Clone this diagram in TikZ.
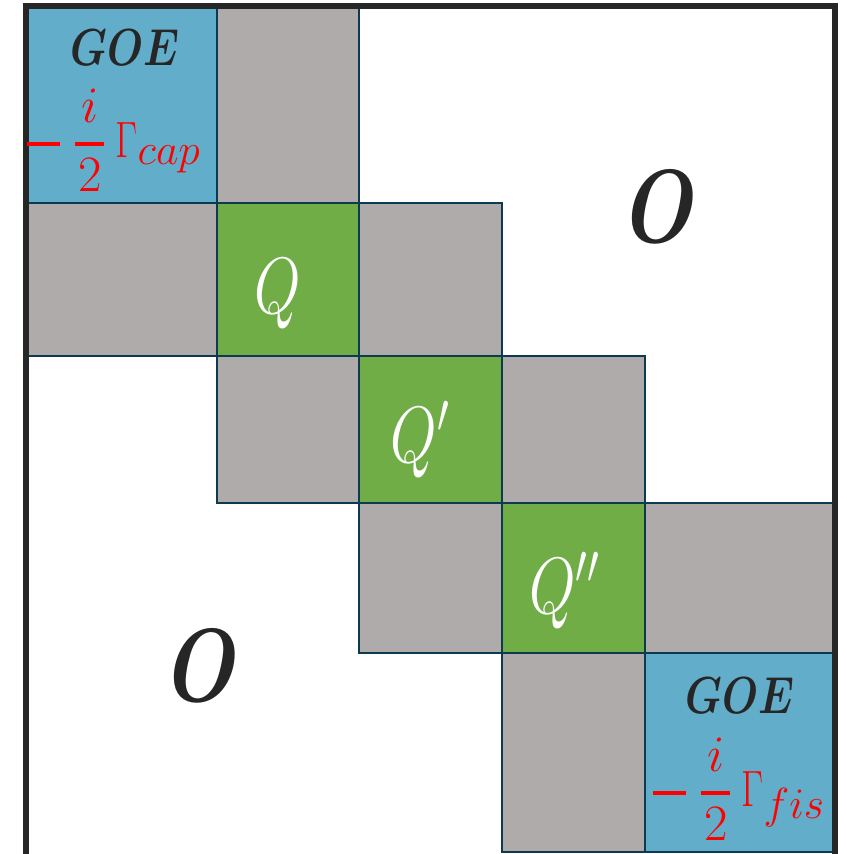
\RequirePackage{fix-cm}
\documentclass[tikz,border=0pt]{standalone}
\usepackage{amsmath}
\usepackage{graphicx}
\definecolor{goeblue}{RGB}{98,173,201}
\definecolor{offgray}{RGB}{174,171,170}
\definecolor{qgreen}{RGB}{112,173,71}
\definecolor{edgec}{RGB}{12,58,80}
\definecolor{framec}{RGB}{38,38,38}
\newcommand{\subsz}[1]{\scalebox{1.22}{$\scriptstyle #1$}}
\newcommand{\gammaterm}[1]{\rule[10.7pt]{33pt}{4pt}\hspace{14pt}%
  \genfrac{}{}{4pt}{0}{i}{\mkern1mu 2\mkern1mu}\hspace{10pt}%
  \scalebox{0.75}[1]{$\Gamma$}_{\subsz{#1}}}
\begin{document}
\begin{tikzpicture}[x=1pt,y=-1pt,
  blk/.style={draw=edgec, line width=2.8pt},
  goeblk/.style={blk, fill=goeblue},
  offblk/.style={blk, fill=offgray},
  diagblk/.style={blk, fill=qgreen},
  bigzero/.style={text=framec, font=\fontsize{104}{106}\selectfont\bfseries\itshape, anchor=base, inner sep=0},
  qlab/.style={text=white, font=\fontsize{80}{82}\selectfont, anchor=base, inner sep=0},
  goelab/.style={text=framec, font=\fontsize{52}{54}\selectfont, anchor=base, inner sep=0},
  gam/.style={text=red, font=\fontsize{51}{53}\selectfont, inner sep=0, anchor=base west}]
\useasboundingbox (0,0) rectangle (846,854);
\fill[white] (0,0) rectangle (846,854);
% blocks
\draw[goeblk]  (28,6) rectangle (217,203);
\draw[offblk]  (217,6) rectangle (359,203);
\draw[offblk]  (28,203) rectangle (217,356);
\draw[diagblk] (217,203) rectangle (359,356);
\draw[offblk]  (359,203) rectangle (502,356);
\draw[offblk]  (217,356) rectangle (359,503);
\draw[diagblk] (359,356) rectangle (502,503);
\draw[offblk]  (502,356) rectangle (645,503);
\draw[offblk]  (359,503) rectangle (502,653);
\draw[diagblk] (502,503) rectangle (645,653);
\draw[offblk]  (645,503) rectangle (834,653);
\draw[offblk]  (502,653) rectangle (645,852);
\draw[goeblk]  (645,653) rectangle (834,852);
% frame
\draw[framec, line width=5.5pt] (26,6) rectangle (835,857);
% labels
\node[goelab] (goe1) at (125,65) {\scalebox{0.8}[1]{\boldmath$GOE$}};
\node[gam] (gam1) at (27,157) {$\displaystyle \gammaterm{cap}$};
\node[goelab] (goe2) at (740,713) {\scalebox{0.8}[1]{\boldmath$GOE$}};
\node[gam] (gam2) at (653,806) {$\displaystyle \gammaterm{fis}$};
\node[qlab] (q1) at (278,313) {\scalebox{0.75}[1]{$Q$}};
\node[qlab] (q2) at (420,462) {\scalebox{0.75}[1]{$Q'$}};
\node[qlab] (q3) at (564,613) {\scalebox{0.75}[1]{$Q''$}};
\node[bigzero] (zero1) at (655,242) {\scalebox{0.83}[1]{O}};
\node[bigzero] (zero2) at (197,701) {\scalebox{0.83}[1]{O}};
\end{tikzpicture}
\end{document}
